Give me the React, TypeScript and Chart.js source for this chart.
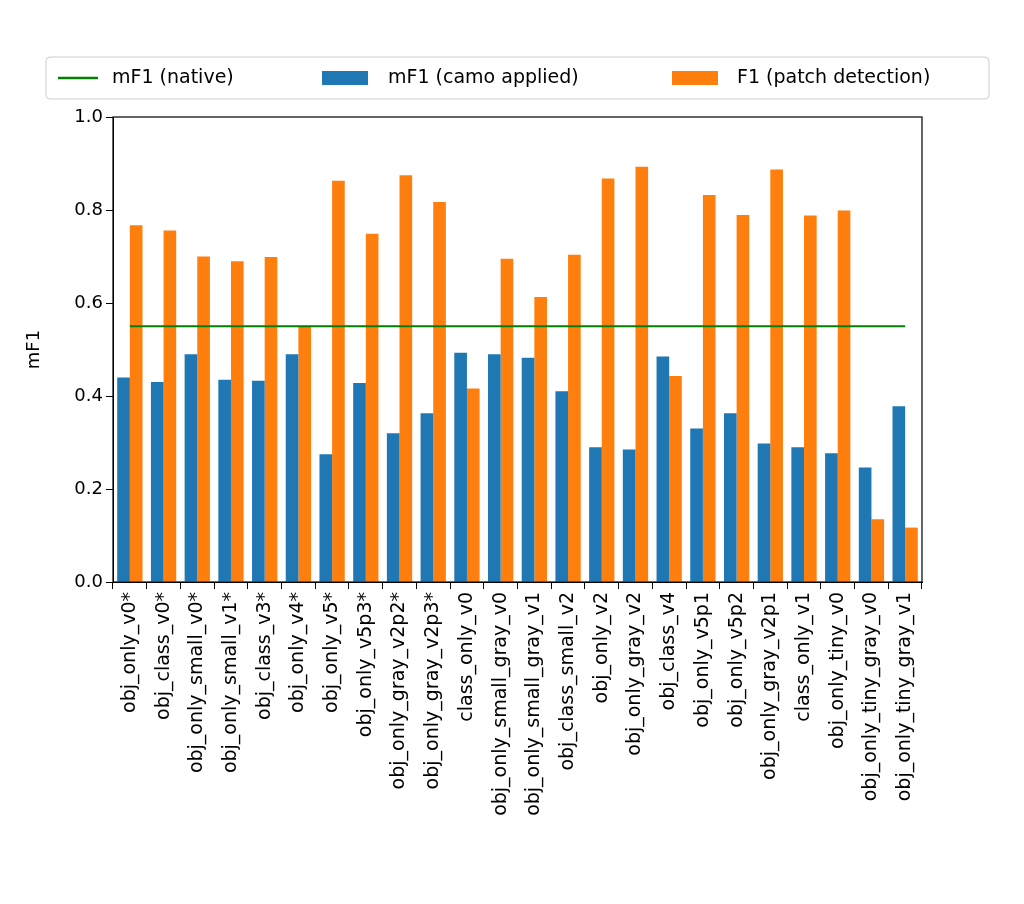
import React, { useEffect, useRef } from "react";
import { Chart, registerables } from "chart.js";
Chart.register(...registerables);

const categories = ["obj_only_v0*","obj_class_v0*","obj_only_small_v0*","obj_only_small_v1*","obj_class_v3*","obj_only_v4*","obj_only_v5*","obj_only_v5p3*","obj_only_gray_v2p2*","obj_only_gray_v2p3*","class_only_v0","obj_only_small_gray_v0","obj_only_small_gray_v1","obj_class_small_v2","obj_only_v2","obj_only_gray_v2","obj_class_v4","obj_only_v5p1","obj_only_v5p2","obj_only_gray_v2p1","class_only_v1","obj_only_tiny_v0","obj_only_tiny_gray_v0","obj_only_tiny_gray_v1"];
const camoValues = [0.44,0.43,0.49,0.435,0.433,0.49,0.275,0.428,0.32,0.363,0.493,0.49,0.482,0.41,0.29,0.285,0.485,0.33,0.363,0.298,0.29,0.277,0.246,0.378];
const patchValues = [0.767,0.756,0.70,0.69,0.699,0.55,0.863,0.749,0.875,0.817,0.416,0.695,0.613,0.704,0.868,0.893,0.443,0.832,0.789,0.887,0.788,0.799,0.135,0.117];
const nativeValue = 0.55;
const yTicks = [0, 0.2, 0.4, 0.6, 0.8, 1.0];
const seriesLabels = ["mF1 (native)", "mF1 (camo applied)", "F1 (patch detection)"];

const FONT = "'DejaVu Sans', sans-serif";
const FS = 19;

export default function App() {
  const ref = useRef<HTMLCanvasElement>(null);
  useEffect(() => {
    const frame = {
      id: "frame",
      afterDraw(c: any) {
        const { ctx, chartArea: a } = c;
        ctx.save();
        ctx.strokeStyle = "#000";
        ctx.lineWidth = 1.2;
        ctx.strokeRect(a.left, a.top, a.right - a.left, a.bottom - a.top);
        // legend
        ctx.strokeStyle = "#cccccc";
        ctx.lineWidth = 1;
        ctx.beginPath();
        ctx.roundRect(46, 57, 943, 42, 4);
        ctx.stroke();
        const ds = c.data.datasets;
        const cy = 78;
        ctx.font = `${FS}px ${FONT}`;
        ctx.fillStyle = "#000";
        ctx.textBaseline = "middle";
        ctx.strokeStyle = ds[0].borderColor;
        ctx.lineWidth = 2.5;
        ctx.beginPath(); ctx.moveTo(58, cy); ctx.lineTo(98, cy); ctx.stroke();
        ctx.fillStyle = "#000"; ctx.fillText(seriesLabels[0], 112, cy);
        ctx.fillStyle = ds[1].backgroundColor; ctx.fillRect(322, cy - 7, 46, 14);
        ctx.fillStyle = "#000"; ctx.fillText(seriesLabels[1], 388, cy);
        ctx.fillStyle = ds[2].backgroundColor; ctx.fillRect(672, cy - 7, 46, 14);
        ctx.fillStyle = "#000"; ctx.fillText(seriesLabels[2], 737, cy);
        ctx.restore();
      },
    };
    const chart = new Chart(ref.current!, {
      type: "bar",
      data: {
        labels: categories,
        datasets: [
          { type: "line", label: seriesLabels[0], data: categories.map(() => nativeValue), borderColor: "#008000", backgroundColor: "#008000", borderWidth: 2, pointRadius: 0, order: 0 } as any,
          { label: seriesLabels[1], data: camoValues, backgroundColor: "#1f77b4", categoryPercentage: 0.75, barPercentage: 1, order: 1 },
          { label: seriesLabels[2], data: patchValues, backgroundColor: "#ff7f0e", categoryPercentage: 0.75, barPercentage: 1, order: 1 },
        ],
      },
      options: {
        animation: false,
        responsive: false,
        layout: { padding: { left: 20, right: 102, top: 117, bottom: 0 } },
        plugins: { tooltip: { enabled: false }, legend: { display: false } },
        scales: {
          x: {
            grid: { drawOnChartArea: false, color: "#000", tickLength: 7 },
            border: { color: "#000" },
            ticks: { color: "#000", font: { family: FONT, size: FS }, maxRotation: 90, minRotation: 90, autoSkip: false },
            afterFit(s: any) { s.height = 322; },
          },
          y: {
            min: 0, max: 1,
            afterBuildTicks(s: any) { s.ticks = yTicks.map((v) => ({ value: v })); },
            grid: { drawOnChartArea: false, color: "#000", tickLength: 7 },
            border: { color: "#000" },
            ticks: { color: "#000", font: { family: FONT, size: FS - 1 }, callback: (v: any) => Number(v).toFixed(1) },
            title: { display: true, text: "mF1", color: "#000", font: { family: FONT, size: FS - 1 } },
            afterFit(s: any) { s.width = 93; },
          },
        },
      },
      plugins: [frame],
    });
    return () => chart.destroy();
  }, []);
  return (
    <div style={{ position: "absolute", left: 0, top: 0, width: 1024, height: 904, background: "#fff" }}>
      <canvas ref={ref} width={1024} height={904} />
    </div>
  );
}
